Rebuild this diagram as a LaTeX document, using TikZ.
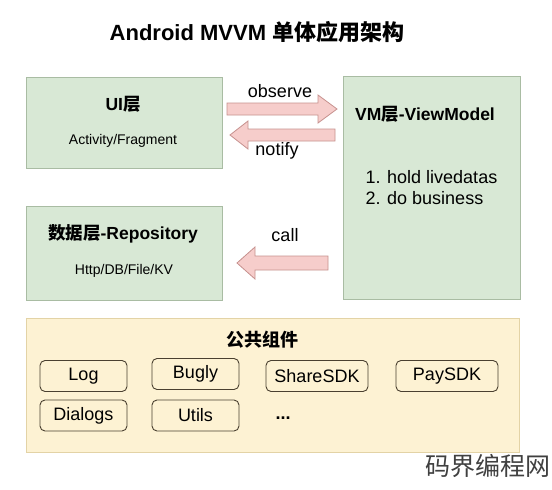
\documentclass[tikz,border=0pt]{standalone}
\usepackage{fontspec}
\setmainfont{Liberation Sans}
\newfontfamily\cjk{Noto Sans CJK SC}
\usetikzlibrary{calc}
\definecolor{gfill}{HTML}{D8E8D5}
\definecolor{gline}{HTML}{A9BCA3}
\definecolor{yfill}{HTML}{FDF2D3}
\definecolor{yline}{HTML}{E3D3A6}
\definecolor{afill}{HTML}{F6CDCB}
\definecolor{aline}{HTML}{C7928F}
\definecolor{sline}{HTML}{4A4030}
\tikzset{
  greenbox/.style={draw=gline, fill=gfill, line width=0.8pt},
  yellowbox/.style={draw=yline, fill=yfill, line width=0.8pt},
  compbox/.style={draw=sline, fill=yfill, line width=0.9pt, rounded corners=5pt, minimum width=87pt, minimum height=31pt, inner sep=0pt, font=\fontsize{18}{20}\selectfont},
  fatarrow/.style={draw=aline, fill=afill, line width=0.8pt, line join=miter},
  boxtitle/.style={font=\fontsize{17.5}{20}\bfseries\selectfont},
  subtext/.style={font=\fontsize{14}{16}\selectfont},
  arrowlabel/.style={font=\fontsize{18}{20}\selectfont},
}
\begin{document}
\begin{tikzpicture}[x=1pt,y=-1pt]
\useasboundingbox (0,0) rectangle (552,490);
\fill[white] (0,0) rectangle (552,490);
% title
\node[font=\fontsize{22}{26}\bfseries\selectfont] (title) at (257,32) {Android MVVM {\cjk 单体应用架构}};
% boxes
\draw[greenbox] (26,77) rectangle (222,168);
\coordinate (ui) at (124,122);
\node[boxtitle] (uit) at (123,104) {UI{\cjk 层}};
\node[subtext] (uis) at (123,141) {Activity/Fragment};

\draw[greenbox] (343,76) rectangle (520,299);
\coordinate (vm) at (431,187);
\node[boxtitle] (vmt) at (425,114) {VM{\cjk 层}-ViewModel};
\node[font=\fontsize{18}{21}\selectfont, align=left, anchor=north west] (vml) at (362,167) {1. hold livedatas\\2. do business};

\draw[greenbox] (26,206) rectangle (222,300);
\node[boxtitle] (rpt) at (123,234) {{\cjk 数据层}-Repository};
\node[subtext] (rps) at (124,271) {Http/DB/File/KV};

% arrows
\draw[fatarrow] (227,103) -- (318,103) -- (318,95) -- (337,109) -- (318,123) -- (318,115) -- (227,115) -- cycle;
\node[arrowlabel] (obs) at (280,91) {observe};
\draw[fatarrow] (335,129) -- (248,129) -- (248,121) -- (230,135) -- (248,149) -- (248,141) -- (335,141) -- cycle;
\node[arrowlabel] (ntf) at (277,151) {notify};
\draw[fatarrow] (328,256) -- (255,256) -- (255,247) -- (237,263) -- (255,279) -- (255,270) -- (328,270) -- cycle;
\node[arrowlabel] (call) at (285,235) {call};

% common components
\draw[yellowbox] (26,318) rectangle (519,452);
\node[font=\fontsize{18}{20}\bfseries\selectfont] (cmt) at (262,340) {\cjk 公共组件};
\node[compbox] (log) at (83.5,376) {Log};
\node[compbox] (bugly) at (195.5,374) {Bugly};
\node[compbox, minimum width=102pt] (share) at (317,376) {ShareSDK};
\node[compbox, minimum width=102pt] (pay) at (447,376) {PaySDK};
\node[compbox] (dialogs) at (83.5,415.5) {Dialogs};
\node[compbox] (utils) at (195.5,415.5) {Utils};
\node[font=\fontsize{18}{20}\bfseries\selectfont] (dots) at (283,418) {...};

% watermark
\node[font=\fontsize{25}{28}\selectfont, text=black!75, anchor=west, inner sep=0pt] (wm) at (425,466) {\cjk 码界编程网};
\end{tikzpicture}
\end{document}
